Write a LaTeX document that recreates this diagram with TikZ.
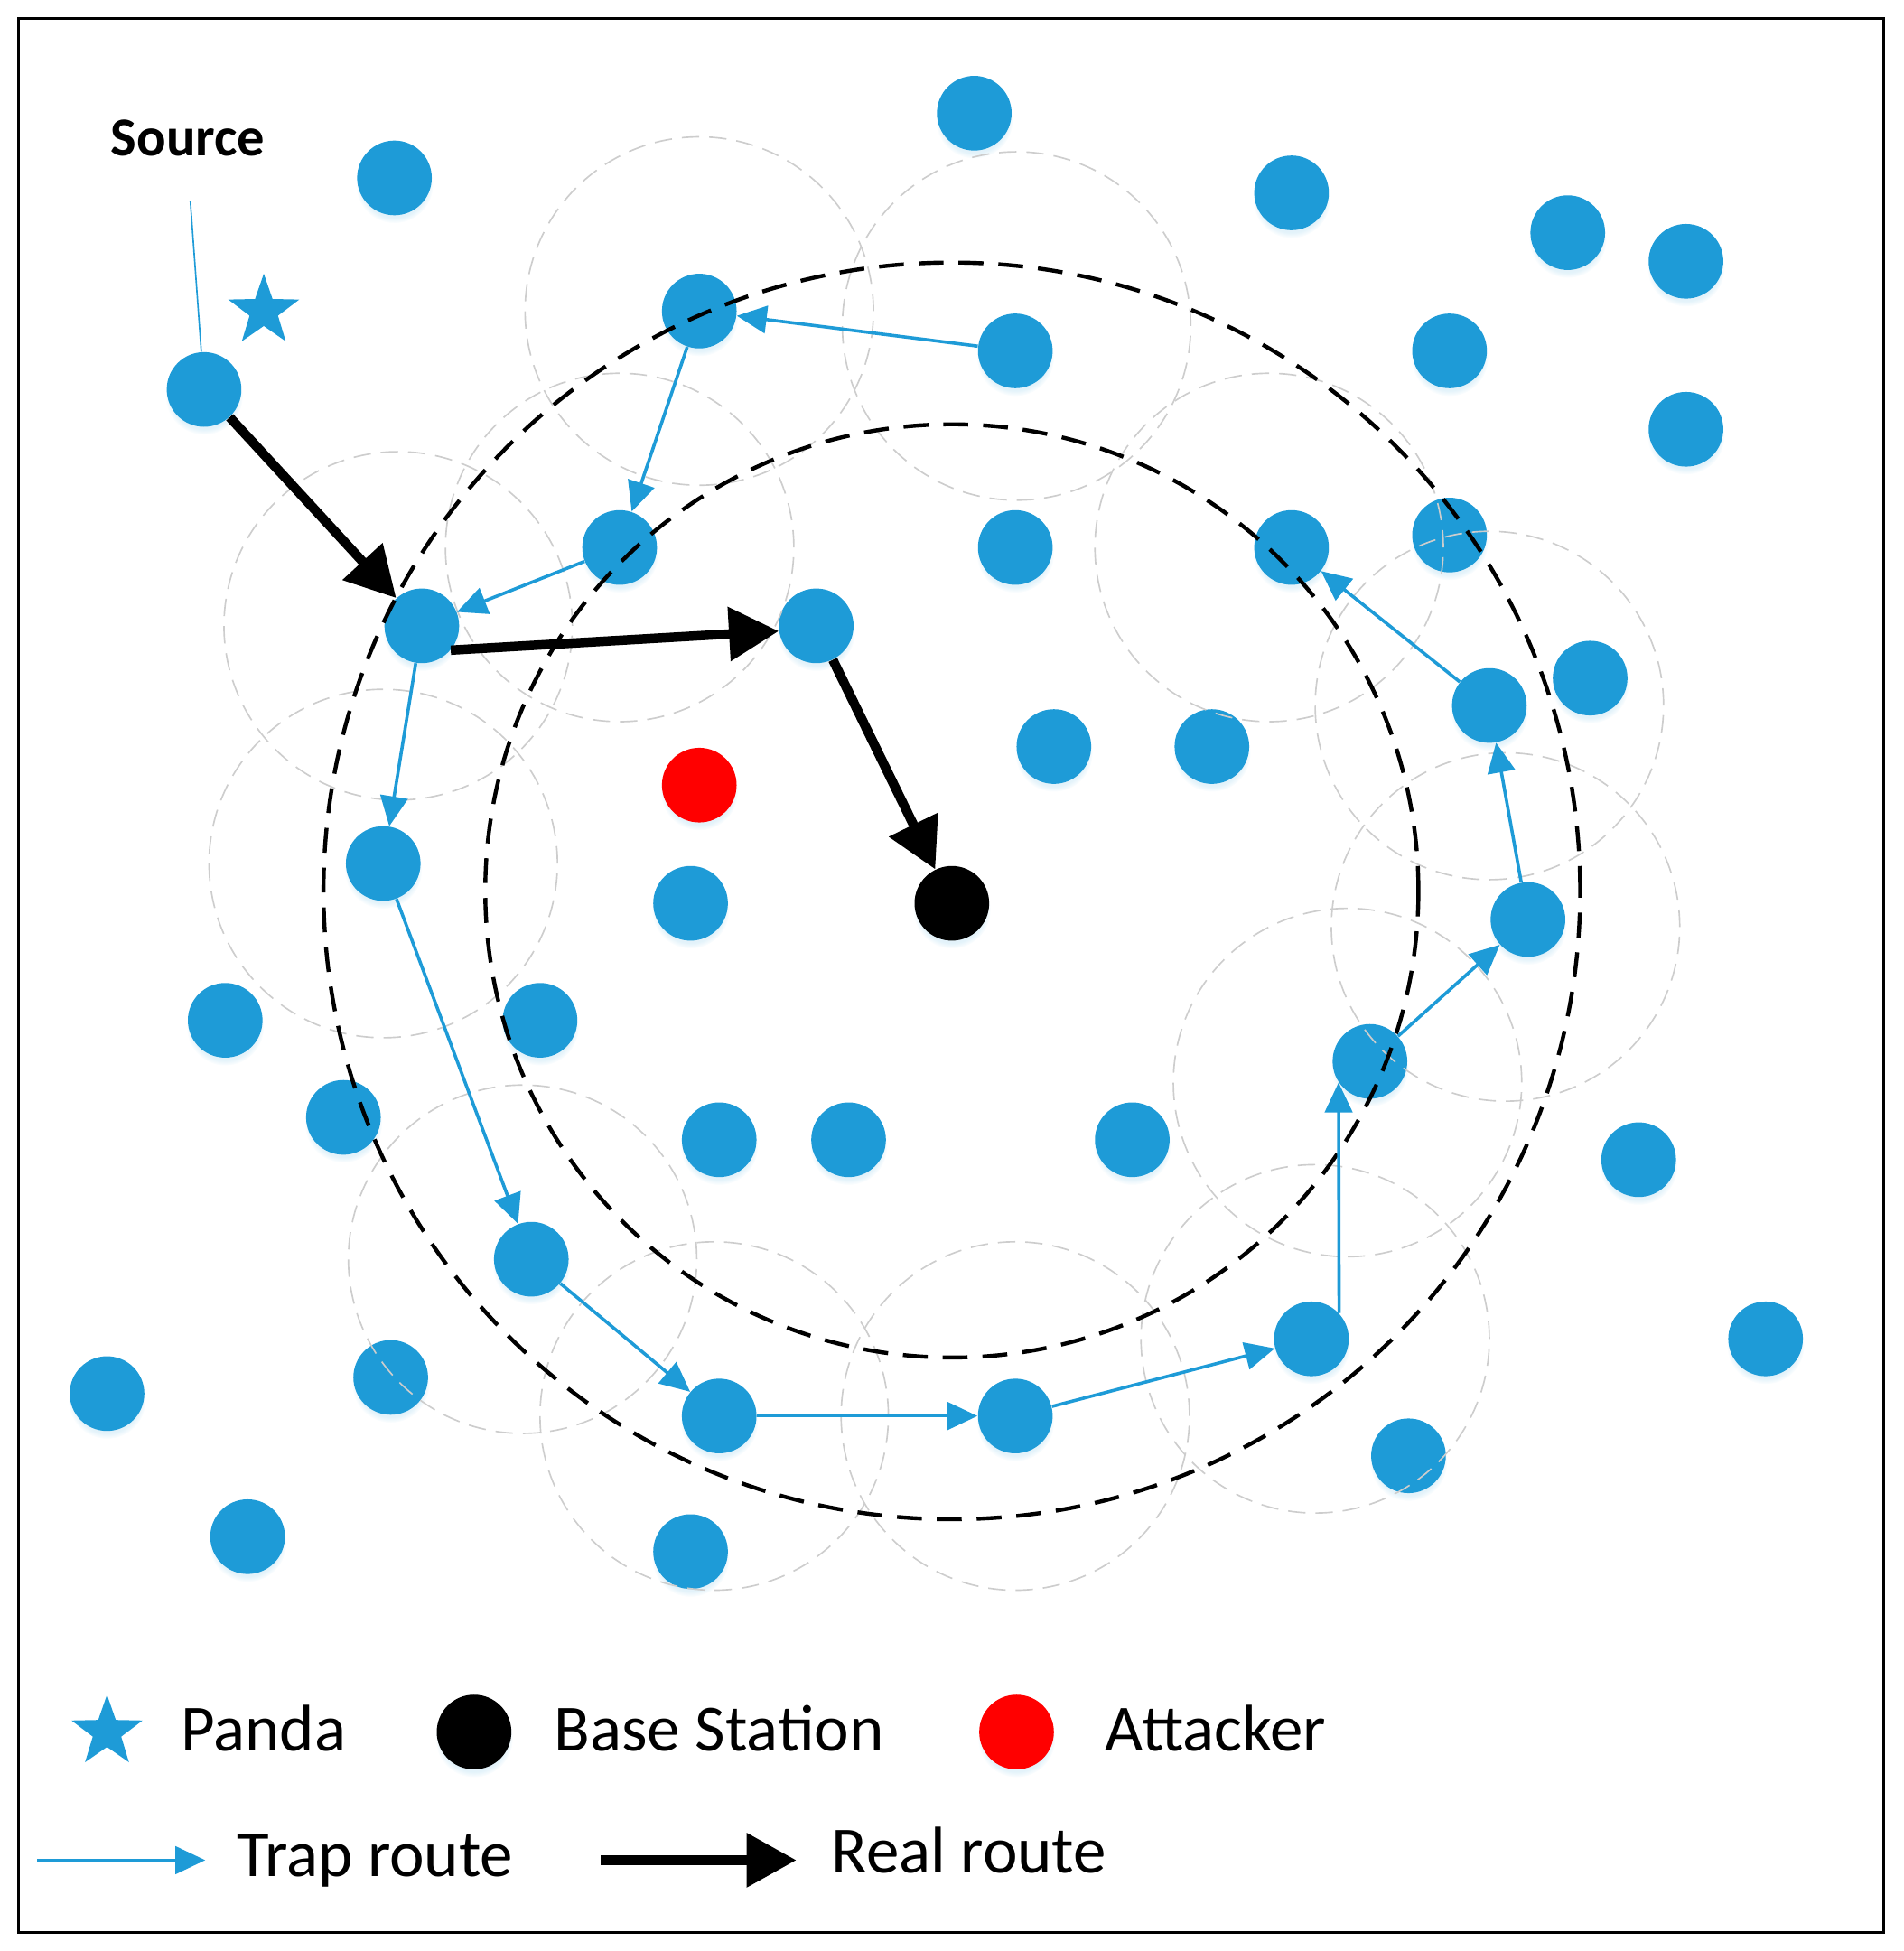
\documentclass[tikz,border=0pt]{standalone}
\usepackage{fontspec}
\setmainfont{Carlito}
\usetikzlibrary{arrows.meta,shapes.geometric,shadows}
\definecolor{nodeblue}{RGB}{30,155,215}
\definecolor{rangegray}{RGB}{205,205,205}
\begin{document}
\begin{tikzpicture}[x=0.5pt,y=-0.5pt,
  softshadow/.style={circular drop shadow={fill=nodeblue!25,opacity=0.5,shadow xshift=0pt,shadow yshift=-2.5pt,shadow scale=1.04}},
  sensor/.style={circle,fill=nodeblue,minimum size=30pt,inner sep=0pt,softshadow},
  bsnode/.style={circle,fill=black,minimum size=30pt,inner sep=0pt,softshadow},
  attnode/.style={circle,fill=red,minimum size=30pt,inner sep=0pt,softshadow},
  pandastar/.style={star,star points=5,star point ratio=2.5,fill=nodeblue,minimum size=30pt,inner sep=0pt},
  commrange/.style={draw=rangegray,line width=0.6pt,dash pattern=on 7pt off 4pt},
  ringline/.style={draw=black,line width=1.6pt,dash pattern=on 10pt off 6pt},
  trap/.style={draw=nodeblue,line width=1.3pt,-{Triangle[length=12pt,width=11pt]}},
  real/.style={draw=black,line width=3.8pt,-{Triangle[length=20pt,width=21pt]}},
  legtext/.style={anchor=base west,inner sep=0pt,font=\fontsize{26.5}{30}\selectfont},
]
\useasboundingbox (0,0) rectangle (1530,1568);
\draw[line width=1.1pt] (15,15) rectangle (1514,1553);

% sensor nodes
\node[sensor] (n1) at (317,143) {};
\node[sensor] (n2) at (783,91) {};
\node[sensor] (n3) at (1038,155) {};
\node[sensor] (n4) at (1260,187) {};
\node[sensor] (n5) at (1355,210) {};
\node[sensor] (n6) at (1165,282) {};
\node[sensor] (n7) at (1355,345) {};
\node[sensor] (n8) at (164,313) {};
\node[sensor] (n9) at (562,250) {};
\node[sensor] (n10) at (816,282) {};
\node[sensor] (n11) at (498,440) {};
\node[sensor] (n12) at (816,440) {};
\node[sensor] (n13) at (1038,440) {};
\node[sensor] (n14) at (1165,430) {};
\node[sensor] (n15) at (339,503) {};
\node[sensor] (n16) at (656,503) {};
\node[sensor] (n17) at (1278,545) {};
\node[sensor] (n18) at (1197,567) {};
\node[sensor] (n19) at (847,600) {};
\node[sensor] (n20) at (974,600) {};
\node[sensor] (n21) at (308,694) {};
\node[sensor] (n22) at (555,726) {};
\node[sensor] (n23) at (1228,739) {};
\node[sensor] (n24) at (181,820) {};
\node[sensor] (n25) at (434,820) {};
\node[sensor] (n26) at (1101,853) {};
\node[sensor] (n27) at (276,898) {};
\node[sensor] (n28) at (578,916) {};
\node[sensor] (n29) at (682,916) {};
\node[sensor] (n30) at (910,916) {};
\node[sensor] (n31) at (1317,932) {};
\node[sensor] (n32) at (427,1012) {};
\node[sensor] (n33) at (1054,1076) {};
\node[sensor] (n34) at (1419,1076) {};
\node[sensor] (n35) at (86,1120) {};
\node[sensor] (n36) at (314,1107) {};
\node[sensor] (n37) at (578,1138) {};
\node[sensor] (n38) at (816,1138) {};
\node[sensor] (n39) at (1132,1170) {};
\node[sensor] (n40) at (199,1235) {};
\node[sensor] (n41) at (555,1247) {};
\node[attnode] (att) at (562,631) {};
\node[bsnode] (bs) at (765,726) {};
\node[pandastar] (panda) at (212,250) {};

% communication ranges
\foreach \cx/\cy in {562/250, 817/262, 498/440, 320/503, 308/694, 1020/440,
  1197/567, 1210/745, 1083/870, 420/1012, 574/1138, 816/1138, 1057/1076}
  \draw[commrange] (\cx,\cy) circle[radius=70pt];

% rings
\draw[ringline] (765,716) circle[radius=252.5pt];
\draw[ringline] (765,716) circle[radius=187.5pt];

% source label
\node[anchor=base,inner sep=0pt,font=\fontsize{22}{26}\selectfont\bfseries] (srclabel) at (151,125) {Source};
\coordinate (srcl) at (153,162);
\draw[nodeblue,line width=0.6pt] (srcl) -- (n8);

% trap route
\draw[trap] (n10) -- (n9);
\draw[trap] (n9) -- (n11);
\draw[trap] (n11) -- (n15);
\draw[trap] (n15) -- (n21);
\draw[trap] (n21) -- (n32);
\draw[trap] (n32) -- (n37);
\draw[trap] (n37) -- (n38);
\draw[trap] (n38) -- (n33);
\draw[trap] (n33.43) -- (n26.214);
\draw[trap] (n26) -- (n23);
\draw[trap] (n23) -- (n18);
\draw[trap] (n18) -- (n13);

% real route
\draw[real] (n8) -- (n15);
\draw[real] (n15.-40) -- (n16.188);
\draw[real] (n16) -- (bs);

% legend
\node[pandastar] (lpanda) at (86,1392) {};
\node[legtext] (tpanda) at (145,1407) {Panda};
\node[bsnode] (lbs) at (381,1392) {};
\node[legtext] (tbs) at (445,1407) {Base Station};
\node[attnode] (latt) at (817,1392) {};
\node[legtext] (tatt) at (888,1407) {Attacker};
\coordinate (ta1) at (30,1495);
\coordinate (ta2) at (165,1495);
\draw[trap] (ta1) -- (ta2);
\node[legtext] (ttrap) at (190,1508) {Trap route};
\coordinate (ra1) at (483,1495);
\coordinate (ra2) at (640,1495);
\draw[real] (ra1) -- (ra2);
\node[legtext] (treal) at (668,1505) {Real route};
\end{tikzpicture}
\end{document}
